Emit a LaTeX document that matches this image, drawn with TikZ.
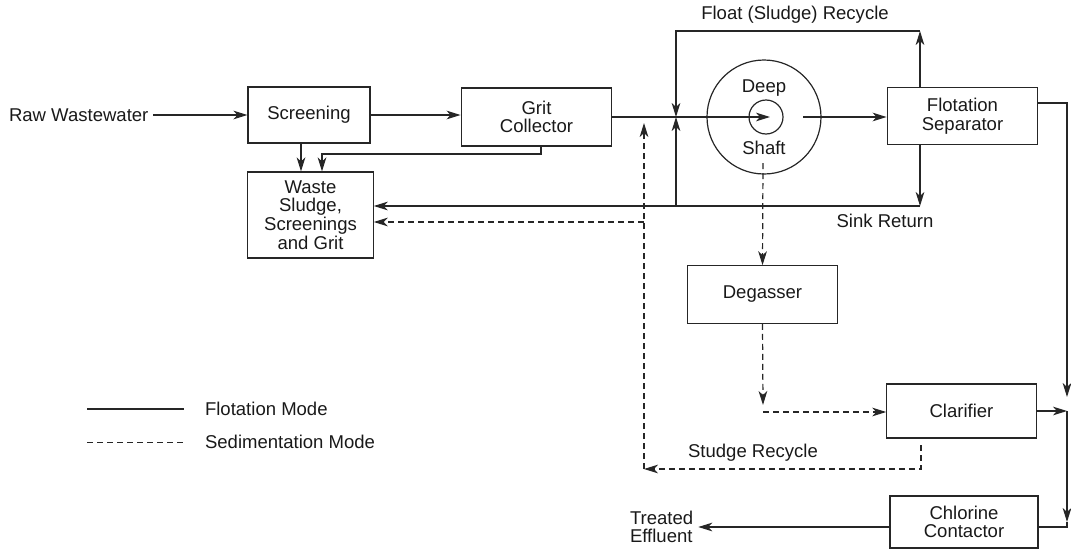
\documentclass[tikz,border=0pt]{standalone}
\usepackage{fontspec}
\setmainfont{Liberation Sans}
\usetikzlibrary{arrows.meta}

\begin{document}
\begin{tikzpicture}[x=0.75pt,y=-0.75pt,
		line width=0.9pt, draw=black!85,
		>={Stealth[length=10.5pt,width=6.5pt,inset=3pt]},
		every node/.style={font=\fontsize{13.9}{14}\selectfont, align=center, text=black!90},
		unit/.style={draw, rectangle, inner sep=2pt},
		sed/.style={dash pattern=on 4.5pt off 3pt}]
	
	\useasboundingbox (0,0) rectangle (1071,550);
	
	% --- process units ---
	\node[anchor=west] (raw) at (4,115) {Raw Wastewater};
	\node[unit, minimum width=91.5pt, minimum height=42pt] (screen) at (309,115) {Screening};
	\node[unit, minimum width=113pt, minimum height=43.5pt] (grit) at (536.5,117) {Grit\\Collector};
	\node[unit, minimum width=94pt, minimum height=64.5pt] (waste) at (310.5,215) {Waste\\Sludge,\\Screenings\\and Grit};
	\node[unit, minimum width=113pt, minimum height=43pt] (sep) at (962.5,116) {Flotation\\Separator};
	\node[unit, minimum width=112pt, minimum height=43pt] (deg) at (762.5,294.5) {Degasser};
	\node[unit, minimum width=112pt, minimum height=40.5pt] (clar) at (961.5,411) {Clarifier};
	\node[unit, minimum width=111pt, minimum height=39pt] (chlor) at (964,522) {Chlorine\\Contactor};
	\node[anchor=west, align=left] (effl) at (625,527) {Treated\\Effluent};
	
	% --- deep shaft ---
	\node[draw, circle, minimum size=85.5pt] (shaft) at (764,117) {};
	\node[draw, circle, minimum size=25.5pt] (core) at (766,117) {};
	\node (deeplbl) at (764,88) {Deep};
	\node (shaftlbl) at (764,148) {Shaft};
	
	% --- junction points ---
	\coordinate (corein) at (770,117);
	\coordinate (coreout) at (803,117);
	\coordinate (mix) at (676,117);
	\coordinate (ftop) at (920,31);
	\coordinate (sink) at (920,206);
	\coordinate (sdrop) at (301,160);
	\coordinate (gdrop) at (541,160);
	\coordinate (gwaste) at (322,154);
	\coordinate (dtop) at (763,163);
	\coordinate (dcorner) at (763,412);
	\coordinate (dstop) at (763,405);
	\coordinate (ctop) at (921,445);
	\coordinate (srec) at (644,469);
	\coordinate (sedup) at (644,123);
	\coordinate (sedbr) at (644,222);
	\coordinate (rtop) at (1067,103);
	\coordinate (rmid) at (1067,397);
	\coordinate (rlow) at (1067,522);
	\coordinate (cline) at (1067,527);
	
	% --- flotation mode (solid) ---
	\draw[->] (raw) -- (screen);
	\draw[->] (screen) -- (grit.west |- screen);
	\draw[->] (screen.south -| sdrop) -- (waste.north -| sdrop);
	\draw[->] (grit.south -| gdrop) |- (gwaste) -- (gwaste |- waste.north);
	\draw[->] (grit.east) -- (corein);
	\draw[->] (coreout) -- (sep.west |- coreout);
	
	% float recycle
	\draw[->] (sep.north -| ftop) -- (ftop);
	\draw[->] (ftop) -| (mix);
	
	% sink return
	\draw[->] (sep.south -| sink) -- (sink);
	\draw[->] (sink) -- (waste.east |- sink);
	\draw[->] (mix |- sink) -- (mix);
	
	% to chlorine contactor
	\draw[->] (sep.east |- rtop) -- (rtop) -- (rmid);
	\draw[->] (clar.east) -- (clar.east -| rtop);
	\draw[->] (clar.east -| rtop) -- (rlow);
	\draw (rlow) -- (cline) -- (chlor.east |- cline);
	\draw[->] (chlor.west |- cline) -- (effl.east |- cline);
	
	% --- sedimentation mode (dashed) ---
	\draw[sed,->] (dtop) -- (deg.north);
	\draw[sed,->] (deg.south) -- (dstop);
	\draw[sed,->] (dcorner) -- (clar.west |- dcorner);
	\draw[sed,->] (ctop) |- (srec);
	\draw[sed,->] (srec) -- (sedup);
	\draw[sed,->] (sedbr) -- (waste.east |- sedbr);
	
	% --- labels ---
	\node (flbl) at (795,15) {Float (Sludge) Recycle};
	\node (slbl) at (885,221) {Sink Return};
	\node (rlbl) at (753,453) {Studge Recycle};
	
	% --- legend ---
	\coordinate (lga) at (87,409);
	\coordinate (lgb) at (184,409);
	\coordinate (lgc) at (87,442);
	\coordinate (lgd) at (184,442);
	\draw (lga) -- (lgb);
	\draw[sed, line width=0.7pt] (lgc) -- (lgd);
	\node[anchor=west] (flot) at (200,409) {Flotation Mode};
	\node[anchor=west] (sedm) at (200,442) {Sedimentation Mode};
	
\end{tikzpicture}
\end{document}
